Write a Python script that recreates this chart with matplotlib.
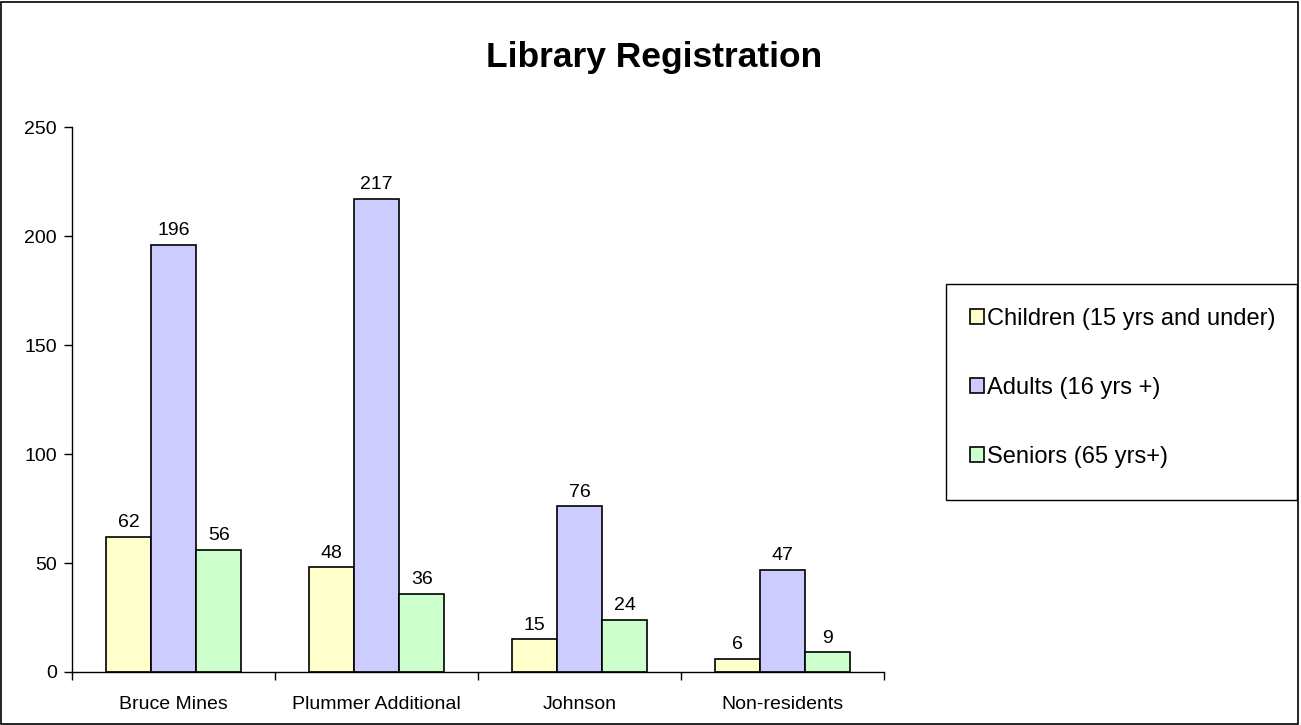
import matplotlib
matplotlib.use("Agg")
import matplotlib.pyplot as plt
import numpy as np
from matplotlib.patches import Rectangle

plt.rcParams["font.family"] = ["Liberation Sans", "DejaVu Sans"]

categories = ["Bruce Mines", "Plummer Additional", "Johnson", "Non-residents"]
series_names = ["Children (15 yrs and under)", "Adults (16 yrs +)", "Seniors (65 yrs+)"]
children = [62, 48, 15, 6]
adults = [196, 217, 76, 47]
seniors = [56, 36, 24, 9]
colors = ["#FFFFCC", "#CCCCFF", "#CCFFCC"]
y_ticks = [0, 50, 100, 150, 200, 250]

W, H = 1301, 725
fig = plt.figure(figsize=(W / 100, H / 100), dpi=100)

# outer chart border
fig.patches.append(Rectangle((0.001, 0.001), 0.997, 0.996, transform=fig.transFigure,
                             fill=False, edgecolor="black", linewidth=1.2))

ax = fig.add_axes([72 / W, 1 - 672 / H, (884 - 72) / W, (672 - 127) / H])

x = np.arange(len(categories))
width = 1 / 4.5
for i, (vals, name, col) in enumerate(zip([children, adults, seniors], series_names, colors)):
    bars = ax.bar(x + (i - 1) * width, vals, width, color=col, edgecolor="black",
                  linewidth=1.2, label=name)
    ax.bar_label(bars, padding=4, fontsize=14)

ax.set_xlim(-0.5, len(categories) - 0.5)
ax.set_ylim(0, 250)
ax.set_yticks(y_ticks)
ax.set_xticks(x)
ax.set_xticklabels(categories)
ax.set_xticks(np.arange(len(categories) + 1) - 0.5, minor=True)
ax.tick_params(axis="x", which="major", length=0, pad=17, labelsize=14)
ax.tick_params(axis="x", which="minor", length=6, width=1)
ax.tick_params(axis="y", length=6, width=1, pad=5, labelsize=14)
for s in ["top", "right"]:
    ax.spines[s].set_visible(False)
for s in ["left", "bottom"]:
    ax.spines[s].set_linewidth(1)

fig.text(0.503, 1 - 57 / H, "Library Registration", ha="center", va="center",
         fontsize=25.5, fontweight="bold")

# legend entries without frame, box drawn separately
fig.legend(loc="upper left", bbox_to_anchor=(946 / W, 1 - 284 / H),
           fontsize=17, frameon=False,
           handlelength=0.6, handleheight=0.6, handletextpad=0.15,
           labelspacing=2.0, borderpad=1.0, borderaxespad=0)
fig.patches.append(Rectangle((946 / W, 1 - 500 / H), (1297 - 946) / W, (500 - 284) / H,
                             transform=fig.transFigure, fill=False,
                             edgecolor="black", linewidth=1))

fig.savefig("out.png", dpi=100)
